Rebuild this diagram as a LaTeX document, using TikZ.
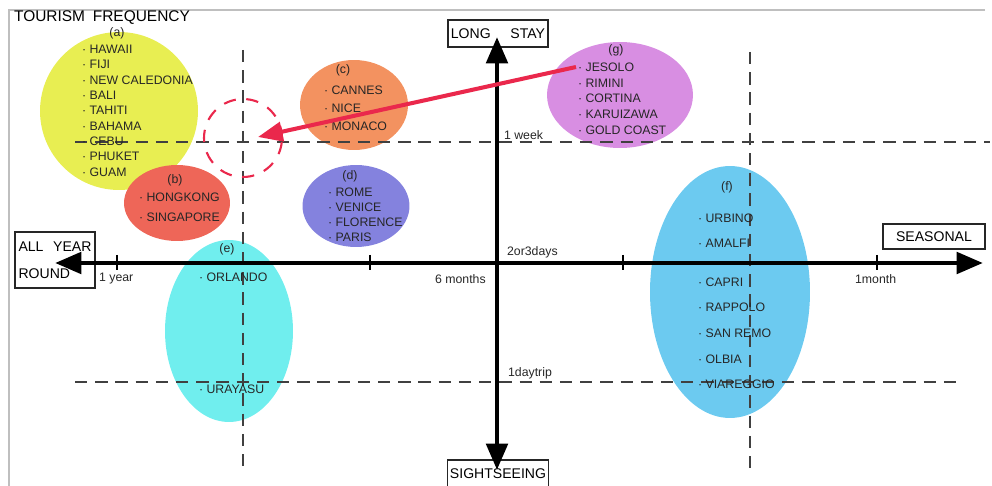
\documentclass[tikz,border=0pt]{standalone}
\usepackage{fontspec}
\setmainfont{Liberation Sans}
\usetikzlibrary{arrows.meta,shapes.geometric}
\definecolor{spotA}{RGB}{232,238,82}
\definecolor{spotB}{RGB}{238,102,88}
\definecolor{spotC}{RGB}{243,146,96}
\definecolor{spotD}{RGB}{132,130,222}
\definecolor{spotE}{RGB}{112,238,238}
\definecolor{spotF}{RGB}{108,202,240}
\definecolor{spotG}{RGB}{216,142,226}
\definecolor{pointred}{RGB}{234,40,76}
\tikzset{
  blob/.style={ellipse,fill=#1,draw=none,inner sep=0pt},
  item/.style={anchor=west,inner sep=1pt,text=black!85,font=\fontsize{7}{8}\selectfont},
  tag/.style={inner sep=1pt,text=black!85,font=\fontsize{7}{8}\selectfont},
  guide/.style={line width=0.9pt,black!75,dash pattern=on 7pt off 4.5pt},
  axis/.style={line width=2.8pt,{Triangle[length=15pt,width=12pt]}-{Triangle[length=15pt,width=12pt]}},
  labelbox/.style={draw=black!85,line width=0.9pt,inner sep=1.5pt,font=\fontsize{8}{9}\selectfont},
  pointer/.style={pointred,line width=2.3pt,-{Triangle[length=14pt,width=11pt]}}
}
\begin{document}
\begin{tikzpicture}[x=0.02cm,y=-0.02cm]
\useasboundingbox (0,0) rectangle (992,486);
\draw[black!25,line width=0.6pt] (985,10) -- (9,10) -- (9,486);
\node[anchor=west,inner sep=1pt,font=\fontsize{8.8}{11}\selectfont] (title) at (12,18) {TOURISM\hspace{0.5em}FREQUENCY};

\node[blob=spotA,minimum width=3.16cm,minimum height=3.16cm] (a) at (119,111) {};
\node[blob=spotB,minimum width=2.12cm,minimum height=1.52cm] (b) at (177,203) {};
\node[blob=spotC,minimum width=2.16cm,minimum height=1.80cm] (c) at (354,105) {};
\node[blob=spotD,minimum width=2.14cm,minimum height=1.64cm] (d) at (356,206) {};
\node[blob=spotE,minimum width=2.56cm,minimum height=3.64cm] (e) at (229,331) {};
\node[blob=spotF,minimum width=3.20cm,minimum height=5.04cm] (f) at (730,292) {};
\node[blob=spotG,minimum width=2.92cm,minimum height=2.12cm] (g) at (620,95) {};

\draw[guide] (75,142) -- (990,142);
\draw[guide] (75,382) -- (962,382);
\draw[guide] (243,50) -- (243,470);
\draw[guide] (750,52) -- (750,472);

\node[circle,draw=pointred,line width=1.2pt,dash pattern=on 7pt off 6pt,minimum size=1.56cm] (target) at (243,138) {};
\coordinate (aim) at (258,137);

\node[labelbox,minimum width=2cm,minimum height=0.54cm] (longstay) at (498,33.5) {LONG\hspace{1.4em}STAY};
\node[labelbox,minimum width=2cm,minimum height=0.56cm] (sight) at (498,474) {SIGHTSEEING};
\node[labelbox,minimum width=2.04cm,minimum height=0.5cm] (seasonal) at (934,236.5) {SEASONAL};
\node[labelbox,text width=1.6cm-4pt,inner xsep=2pt,minimum height=1.12cm,align=left] (allyear) at (55,260) {ALL\hfill YEAR\\[6.5pt]ROUND};

\coordinate (west) at (55,263);
\coordinate (east) at (983,263);
\coordinate (north) at (497,37);
\coordinate (south) at (497,470);
\draw[axis] (west) -- (east);
\draw[axis] (north) -- (south);
\foreach \x in {117,370,623,877}
  \draw[line width=0.8pt] (\x,255) -- (\x,270);

\node[tag,anchor=west] (oneyear) at (97,279) {1 year};
\node[tag,anchor=west] (sixmonths) at (433,279) {6 months};
\node[tag,anchor=west] (onemonth) at (853,279) {1month};
\node[tag,anchor=west] (days) at (505,252) {2or3days};
\node[tag,anchor=west] (week) at (502,135) {1 week};
\node[tag,anchor=west] (daytrip) at (506,373) {1daytrip};

\node[tag] (taga) at (117,33) {(a)};
\node[tag] (tagb) at (175,180) {(b)};
\node[tag] (tagc) at (343,70) {(c)};
\node[tag] (tagd) at (350,176) {(d)};
\node[tag] (tage) at (227,249) {(e)};
\node[tag] (tagf) at (727,187) {(f)};
\node[tag] (tagg) at (616,50) {(g)};

\foreach \name [count=\i] in {HAWAII,FIJI,NEW CALEDONIA,BALI,TAHITI,BAHAMA,CEBU,PHUKET,GUAM}
  \node[item] (a\i) at (80,{33.6+15.4*\i}) {· \name};
\foreach \name [count=\i] in {HONGKONG,SINGAPORE}
  \node[item] (b\i) at (137,{177+20*\i}) {· \name};
\foreach \name [count=\i] in {CANNES,NICE,MONACO}
  \node[item] (c\i) at (322,{72+18*\i}) {· \name};
\foreach \name [count=\i] in {ROME,VENICE,FLORENCE,PARIS}
  \node[item] (d\i) at (326,{177+15*\i}) {· \name};
\foreach \name [count=\i] in {JESOLO,RIMINI,CORTINA,KARUIZAWA,GOLD COAST}
  \node[item] (g\i) at (576,{51.2+15.8*\i}) {· \name};
\node[item] (e1) at (197,277) {· ORLANDO};
\node[item] (e2) at (197,389) {· URAYASU};
\foreach \name [count=\i] in {URBINO,AMALFI}
  \node[item] (f\i) at (696,{193+25*\i}) {· \name};
\foreach \name [count=\i from 3] in {CAPRI,RAPPOLO,SAN REMO,OLBIA,VIAREGGIO}
  \node[item] (f\i) at (696,{205.2+25.6*\i}) {· \name};

\draw[pointer] (g1.west) -- (aim);
\end{tikzpicture}
\end{document}
